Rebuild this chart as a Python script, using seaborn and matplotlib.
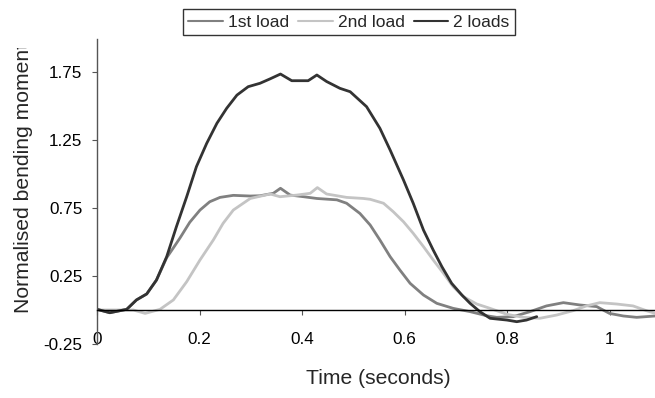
import numpy as np
import pandas as pd
import matplotlib
matplotlib.use("Agg")
import matplotlib.pyplot as plt
from matplotlib.lines import Line2D
from matplotlib.transforms import Bbox
import seaborn as sns

# ---- data ----
series_names = ["1st load", "2nd load", "2 loads"]

t_first = [0.0, 0.025, 0.058, 0.077, 0.097, 0.116, 0.136, 0.146, 0.162, 0.181, 0.201,
           0.22, 0.24, 0.266, 0.299, 0.318, 0.344, 0.358, 0.377, 0.403, 0.429,
           0.468, 0.487, 0.513, 0.533, 0.552, 0.572, 0.591, 0.611, 0.637, 0.663,
           0.695, 0.728, 0.76, 0.78, 0.812, 0.845, 0.877, 0.91, 0.942, 0.975,
           1.0, 1.027, 1.053, 1.089]
m_first = [0.005, -0.02, 0.005, 0.074, 0.118, 0.22, 0.385, 0.44, 0.53, 0.645, 0.735,
           0.796, 0.828, 0.843, 0.838, 0.84, 0.858, 0.895, 0.845, 0.833, 0.82,
           0.81, 0.785, 0.71, 0.625, 0.515, 0.392, 0.294, 0.196, 0.11, 0.049,
           0.012, -0.012, -0.042, -0.054, -0.049, -0.012, 0.03, 0.054, 0.037, 0.025,
           -0.025, -0.044, -0.054, -0.044]

t_second = [0.0, 0.03, 0.071, 0.094, 0.123, 0.149, 0.175, 0.201, 0.227, 0.246, 0.266,
            0.299, 0.338, 0.357, 0.39, 0.416, 0.43, 0.448, 0.487, 0.52, 0.533,
            0.559, 0.578, 0.598, 0.617, 0.637, 0.656, 0.676, 0.695, 0.715, 0.741,
            0.767, 0.80, 0.832, 0.864, 0.897, 0.929, 0.955, 0.981, 1.014, 1.046,
            1.072, 1.089]
m_second = [0.0, 0.0, 0.0, -0.025, 0.005, 0.074, 0.208, 0.368, 0.515, 0.637, 0.735,
            0.82, 0.853, 0.833, 0.845, 0.858, 0.90, 0.853, 0.828, 0.82, 0.814,
            0.785, 0.723, 0.649, 0.564, 0.466, 0.368, 0.27, 0.171, 0.098, 0.044,
            0.012, -0.032, -0.054, -0.061, -0.037, -0.005, 0.03, 0.054, 0.044, 0.03,
            -0.005, -0.025]

t_both = [0.0, 0.025, 0.058, 0.077, 0.097, 0.116, 0.136, 0.155, 0.175, 0.194, 0.214,
          0.234, 0.253, 0.273, 0.295, 0.318, 0.338, 0.358, 0.38, 0.412, 0.429,
          0.448, 0.474, 0.494, 0.526, 0.552, 0.572, 0.598, 0.617, 0.637, 0.656,
          0.673, 0.692, 0.712, 0.728, 0.747, 0.767, 0.80, 0.819, 0.838, 0.858]
m_both = [0.005, -0.02, 0.005, 0.074, 0.118, 0.22, 0.392, 0.613, 0.833, 1.054, 1.225,
          1.373, 1.483, 1.58, 1.642, 1.667, 1.70, 1.735, 1.686, 1.686, 1.728,
          1.68, 1.63, 1.605, 1.495, 1.336, 1.176, 0.956, 0.785, 0.588, 0.441,
          0.318, 0.196, 0.11, 0.049, -0.012, -0.061, -0.074, -0.086, -0.074, -0.049]

x_ticks = [0, 0.2, 0.4, 0.6, 0.8, 1]
x_tick_labels = ["0", "0.2", "0.4", "0.6", "0.8", "1"]
y_ticks = [-0.25, 0.25, 0.75, 1.25, 1.75]
y_tick_labels = ["-0.25", "0.25", "0.75", "1.25", "1.75"]

colors = {"1st load": "#808080", "2nd load": "#c4c4c4", "2 loads": "#333333"}

df = pd.concat([
    pd.DataFrame({"time": t_first, "moment": m_first, "series": "1st load"}),
    pd.DataFrame({"time": t_second, "moment": m_second, "series": "2nd load"}),
    pd.DataFrame({"time": t_both, "moment": m_both, "series": "2 loads"}),
], ignore_index=True)

sns.set_theme(style="white")
plt.rcParams["font.family"] = ["Liberation Sans", "DejaVu Sans"]

W, H = 655, 398
fig = plt.figure(figsize=(W / 100, H / 100), dpi=100)
ax = fig.add_axes([97 / W, 1 - 344 / H, (655 - 97) / W, (344 - 39) / H])

for name in series_names:
    sub = df[df["series"] == name]
    sns.lineplot(data=sub, x="time", y="moment", color=colors[name], lw=2.0,
                 estimator=None, sort=False, ax=ax, legend=False)

ax.set_xlim(0, (655 - 97) / 512.5)
ax.set_ylim(-0.25, (310 - 39) / 136)

ax.spines["top"].set_visible(False)
ax.spines["right"].set_visible(False)
ax.spines["bottom"].set_position(("data", 0))
ax.spines["bottom"].set_color("black")
ax.spines["bottom"].set_linewidth(1.0)
ax.spines["left"].set_color("#555555")
ax.spines["left"].set_linewidth(1.0)

ax.set_xticks(x_ticks)
ax.set_xticklabels(x_tick_labels)
ax.set_yticks(y_ticks)
ax.set_yticklabels(y_tick_labels)
ax.tick_params(axis="x", direction="out", length=3.6, width=0.8, color="#555555",
               pad=12, labelsize=12.3, labelcolor="black", bottom=True)
ax.tick_params(axis="y", direction="out", length=3.6, width=0.8, color="#555555",
               pad=7, labelsize=12.3, labelcolor="black", left=True)
ax.set_xlabel("")
ax.set_ylabel("")
ax.grid(False)

fig.text(378 / W, 1 - 378 / H, "Time (seconds)", ha="center", va="center", fontsize=15.2)
ylab = fig.text(24 / W, 1 - 178 / H, "Normalised bending moment", ha="center", va="center",
                rotation=90, fontsize=15.2)
ylab.set_clip_box(Bbox.from_extents(0, 0, W, H - 48))
ylab.set_clip_on(True)

handles = [Line2D([0], [0], color=colors[n], lw=1.5) for n in series_names]
leg = fig.legend(handles, series_names, loc="center", bbox_to_anchor=(349 / W, 1 - 22 / H),
                 ncol=3, frameon=True, fancybox=False, fontsize=12.5, handlelength=2.0,
                 handletextpad=0.3, columnspacing=0.5, borderpad=0.3, borderaxespad=0)
leg.get_frame().set_edgecolor("black")
leg.get_frame().set_linewidth(1.0)

fig.savefig("out.png", dpi=100)
